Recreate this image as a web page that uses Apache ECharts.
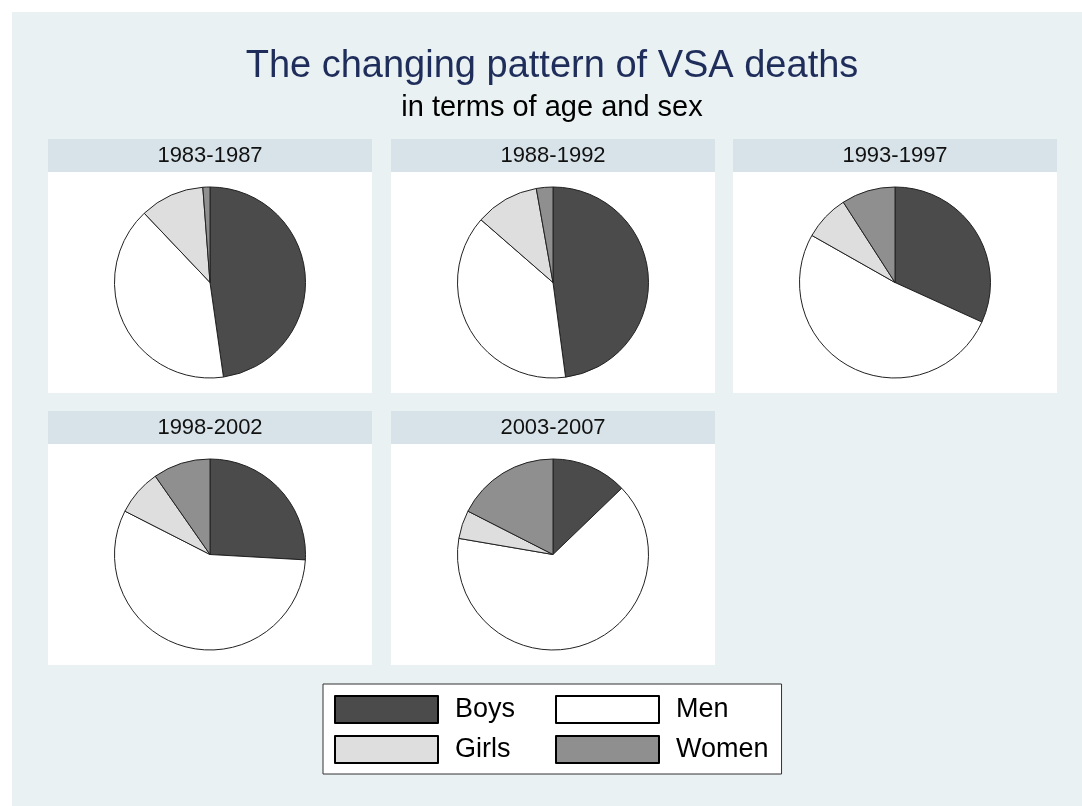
<!DOCTYPE html>
<html>
<head>
<meta charset="utf-8">
<script src="https://cdn.jsdelivr.net/npm/echarts@6/dist/echarts.min.js"></script>
<style>
  html, body { margin: 0; padding: 0; background: #fff; }
  #main { width: 1082px; height: 806px; }
</style>
</head>
<body>
<div id="main"></div>
<script>
// periods (one pie per period)
var periods = ['1983-1987', '1988-1992', '1993-1997', '1998-2002', '2003-2007'];
var groups = ['Boys', 'Men', 'Girls', 'Women'];
// share of deaths (%)
var boys  = [47.8, 47.9, 31.8, 25.9, 12.8];
var men   = [40.2, 38.5, 51.4, 56.6, 64.9];
var girls = [10.9, 10.8,  7.7,  7.8,  4.8];
var women = [ 1.2,  2.8,  9.1,  9.7, 17.5];

var groupColors = ['#4b4b4b', '#ffffff', '#dedede', '#8f8f8f'];
var font = "'Liberation Sans', Arial, sans-serif";

var chart = echarts.init(document.getElementById('main'));

// panel layout
var panelX = [48, 391, 733];
var panelW = 324;
var rowTop = [139, 411];
var headH = 33;
var plotH = 221;

var graphics = [];
var series = [];

// background
graphics.push({type: 'rect', shape: {x: 12, y: 12, width: 1070, height: 794}, style: {fill: '#e9f1f3'}, silent: true, z: -10});
// title
graphics.push({type: 'text', x: 552, y: 67, style: {text: 'The changing pattern of VSA deaths', font: '38px ' + font, fill: '#1f2d5a', align: 'center', verticalAlign: 'middle'}});
graphics.push({type: 'text', x: 552, y: 108, style: {text: 'in terms of age and sex', font: '29px ' + font, fill: '#000', align: 'center', verticalAlign: 'middle'}});

periods.forEach(function (p, i) {
	var col = i % 3, row = Math.floor(i / 3);
	var x = panelX[col], y = rowTop[row];
	graphics.push({type: 'rect', shape: {x: x, y: y, width: panelW, height: headH}, style: {fill: '#d7e3e9'}, silent: true, z: -5});
	graphics.push({type: 'rect', shape: {x: x, y: y + headH, width: panelW, height: plotH}, style: {fill: '#ffffff'}, silent: true, z: -5});
	graphics.push({type: 'text', x: x + panelW / 2, y: y + 17, style: {text: p, font: '22px ' + font, fill: '#111', align: 'center', verticalAlign: 'middle'}, z: -4});

	series.push({
		name: p,
		type: 'pie',
		center: [x + panelW / 2, y + headH + plotH / 2],
		radius: 95.5,
		startAngle: 90,
		clockwise: true,
		label: {show: false},
		labelLine: {show: false},
		emphasis: {scale: false},
		itemStyle: {borderColor: '#222', borderWidth: 1},
		data: [
			{name: groups[0], value: boys[i]},
			{name: groups[1], value: men[i]},
			{name: groups[2], value: girls[i]},
			{name: groups[3], value: women[i]}
		]
	});
});

var option = {
	animation: false,
	backgroundColor: '#ffffff',
	color: groupColors,
	graphic: graphics,
	legend: {
		data: groups,
		left: 323,
		top: 684,
		width: 470,
		orient: 'horizontal',
		backgroundColor: '#ffffff',
		borderColor: '#333',
		borderWidth: 1,
		padding: [11, 13, 10, 11],
		itemWidth: 103,
		itemHeight: 27,
		itemGap: 11,
		icon: 'rect',
		selectedMode: false,
		itemStyle: {borderColor: '#000', borderWidth: 2},
		formatter: '{a|{name}}',
		textStyle: {
			rich: {
				a: {fontSize: 27, fontFamily: font, color: '#000', width: 89, height: 25, lineHeight: 25, align: 'left', padding: [0, 0, 0, 12]}
			}
		}
	},
	series: series
};
chart.setOption(option);
</script>
</body>
</html>
